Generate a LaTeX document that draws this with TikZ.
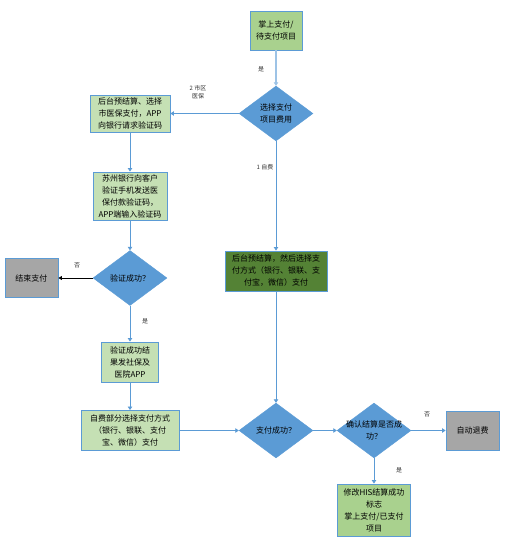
\documentclass[tikz,border=0pt]{standalone}
\usepackage{fontspec}
\setmainfont{Noto Sans CJK SC}
\usetikzlibrary{shapes.geometric,arrows.meta}
\definecolor{lineblue}{HTML}{5B9BD5}
\definecolor{paleblue}{HTML}{9DC3E6}
\definecolor{dblue}{HTML}{5B9BD5}
\definecolor{lgreen}{HTML}{C5E0B4}
\definecolor{mgreen}{HTML}{A9D18E}
\definecolor{dgreen}{HTML}{548235}
\definecolor{gbox}{HTML}{A6A6A6}
\tikzset{
  box/.style={draw=lineblue, line width=0.9pt, inner sep=1pt, align=center, font=\fontsize{8}{12}\selectfont},
  gbx/.style={box, fill=lgreen},
  dbox/.style={diamond, draw=dblue, fill=dblue, inner sep=0pt, minimum width=74pt, minimum height=55pt},
  dtext/.style={align=center, font=\fontsize{8}{12}\selectfont},
  conn/.style={draw=lineblue, line width=1pt, -{Triangle[width=4.5pt,length=3.5pt]}},
  lbl/.style={font=\fontsize{6}{7.5}\selectfont, text=black!80, align=center}
}
\begin{document}
\begin{tikzpicture}[x=1pt,y=-1pt]
\useasboundingbox (0,0) rectangle (505,541);
% nodes
\node[box, fill=mgreen, minimum width=52pt, minimum height=39pt] (top) at (276,30.5) {掌上支付/\\待支付项目};
\node[dbox] (d1) at (276,113.5) {};
\node[dtext] at (d1.center) {选择支付\\项目费用};
\node[gbx, minimum width=80pt, minimum height=37pt] (b1) at (130,113.5) {后台预结算、选择\\市医保支付，APP\\向银行请求验证码};
\node[gbx, minimum width=74pt, minimum height=48pt] (b2) at (130,196) {苏州银行向客户\\验证手机发送医\\保付款验证码，\\APP端输入验证码};
\node[dbox] (d2) at (130,278) {};
\node[dtext] at (d2.center) {验证成功？};
\node[box, fill=gbox, minimum width=53pt, minimum height=39pt] (end) at (31.5,278) {结束支付};
\node[gbx, minimum width=57pt, minimum height=40pt] (b3) at (130,362) {验证成功结\\果发社保及\\医院APP};
\node[gbx, minimum width=98pt, minimum height=40pt] (b4) at (130,430.5) {自费部分选择支付方式\\（银行、银联、支付\\宝、微信）支付};
\node[box, fill=dgreen, minimum width=102pt, minimum height=40pt] (g) at (276,271) {后台预结算，然后选择支\\付方式（银行、银联、支\\付宝，微信）支付};
\node[dbox] (d3) at (276,430.5) {};
\node[dtext] at (d3.center) {支付成功？};
\node[dbox] (d4) at (374,430.5) {};
\node[dtext] at (d4.center) {确认结算是否成\\功？};
\node[box, fill=gbox, minimum width=53pt, minimum height=39pt] (refund) at (472.5,430.5) {自动退费};
\node[box, fill=mgreen, minimum width=73pt, minimum height=52pt] (b5) at (374,510) {修改HIS结算成功\\标志\\掌上支付/已支付\\项目};
% connectors
\draw[conn, draw=paleblue, line width=1.6pt] (top) -- (d1.north);
\draw[conn] (d1.west) -- (b1.east);
\draw[conn] (b1) -- (b2);
\draw[conn] (b2) -- (d2.north);
\draw[line width=0.8pt, -{Triangle[width=4pt,length=3.5pt]}] (d2.west) -- (end.east);
\draw[conn] (d2.south) -- (b3);
\draw[conn] (b3) -- (b4);
\draw[conn] (b4) -- (d3.west);
\draw[conn] (d1.south) -- (g);
\draw[conn] (g) -- (d3.north);
\draw[conn] (d3.east) -- (d4.west);
\draw[conn] (d4.east) -- (refund.west);
\draw[conn] (d4.south) -- (b5);
% labels
\node[lbl] at (261,69) {是};
\node[lbl] at (198,92) {2 市区\\医保};
\node[lbl] at (265,167) {1 自费};
\node[lbl] at (77,265) {否};
\node[lbl] at (145,321) {是};
\node[lbl] at (427,414) {否};
\node[lbl] at (399,470) {是};
\end{tikzpicture}
\end{document}
